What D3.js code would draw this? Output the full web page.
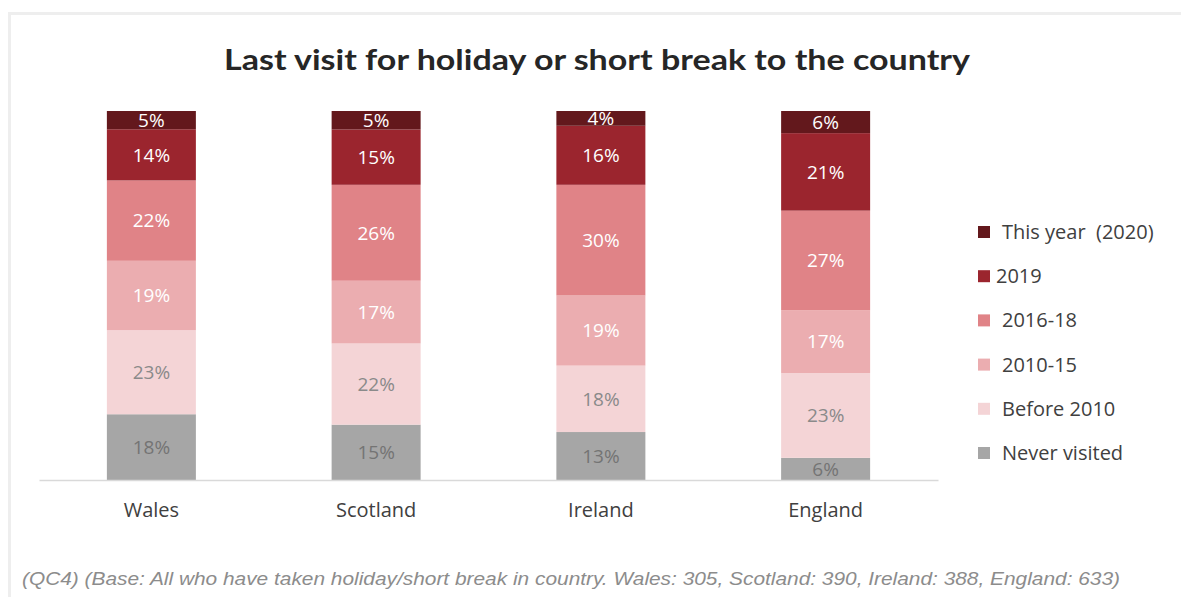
<!DOCTYPE html>
<html><head><meta charset="utf-8">
<script src="https://cdn.jsdelivr.net/npm/d3@7"></script>
<style>
html,body{margin:0;padding:0;background:#fff;}
svg{display:block;}
</style></head>
<body>
<svg id="chart" width="1181" height="597"></svg>
<script>
const categories = ["Wales", "Scotland", "Ireland", "England"];
const seriesNames = ["Never visited", "Before 2010", "2010-15", "2016-18", "2019", "This year  (2020)"];
const neverVisited = [18, 15, 13, 6];
const before2010 = [23, 22, 18, 23];
const y2010to15 = [19, 17, 19, 17];
const y2016to18 = [22, 26, 30, 27];
const y2019 = [14, 15, 16, 21];
const thisYear = [5, 5, 4, 6];
const seriesValues = [neverVisited, before2010, y2010to15, y2016to18, y2019, thisYear];
const colors = ["#a6a6a6", "#f4d4d6", "#ebadb0", "#e08387", "#9b252e", "#63181c"];
const labelColors = ["#747474", "#8a8a8a", "#ffffff", "#ffffff", "#ffffff", "#ffffff"];
const titleText = "Last visit for holiday or short break to the country";
const footnote = "(QC4) (Base: All who have taken holiday/short break in country. Wales: 305, Scotland: 390, Ireland: 388, England: 633)";

const svg = d3.select("#chart");
const font = "'Open Sans', Lato, sans-serif";

// frame
svg.append("rect").attr("x", 9.5).attr("y", 13.5).attr("width", 1190).attr("height", 600)
  .attr("fill", "none").attr("stroke", "#eeeeee").attr("stroke-width", 3);

const rows = categories.map((c, i) => {
  const o = {cat: c};
  seriesNames.forEach((s, j) => o[s] = seriesValues[j][i]);
  return o;
});
const stack = d3.stack().keys(seriesNames).offset(d3.stackOffsetExpand);
const stacked = stack(rows);

const x = d3.scaleBand().domain(categories).range([39, 938]).paddingInner(0.604).paddingOuter(0.302);
const y = d3.scaleLinear().domain([0, 1]).range([480, 111]);

const g = svg.append("g");
const layers = g.selectAll("g.layer").data(stacked).join("g").attr("class", "layer")
  .attr("fill", (d, i) => colors[i]);
layers.selectAll("rect").data(d => d).join("rect")
  .attr("x", d => x(d.data.cat))
  .attr("width", x.bandwidth())
  .attr("y", d => y(d[1]))
  .attr("height", d => y(d[0]) - y(d[1]));

stacked.forEach((layer, i) => {
  g.append("g").selectAll("text").data(layer).join("text")
    .attr("x", d => x(d.data.cat) + x.bandwidth() / 2)
    .attr("y", d => (y(d[0]) + y(d[1])) / 2)
    .attr("dy", "0.36em")
    .attr("text-anchor", "middle")
    .attr("font-family", font)
    .attr("font-size", 19)
    .attr("fill", labelColors[i])
    .text(d => d.data[layer.key] + "%");
});

// axis
const xAxis = d3.axisBottom(x).tickSize(0).tickPadding(23);
const ax = svg.append("g").attr("transform", "translate(0,480)").call(xAxis);
ax.select(".domain").attr("stroke", "#d9d9d9").attr("stroke-width", 1.5);
ax.selectAll("text").attr("font-family", font).attr("font-size", 20).attr("fill", "#404040");

// title
const t = svg.append("text").attr("x", 597).attr("y", 70).attr("text-anchor", "middle")
  .attr("font-family", "Lato, sans-serif").attr("font-weight", "bold").attr("font-size", 29)
  .attr("fill", "#262626").text(titleText);
t.attr("textLength", 746).attr("lengthAdjust", "spacingAndGlyphs");

// legend
const legendOrder = seriesNames.slice().reverse();
const legendColors = colors.slice().reverse();
const lg = svg.append("g");
legendOrder.forEach((s, i) => {
  const cy = 232 + i * 44.2;
  lg.append("rect").attr("x", 978).attr("y", cy - 6).attr("width", 12).attr("height", 12).attr("fill", legendColors[i]);
  lg.append("text").attr("x", i === 1 ? 996 : 1002).attr("y", cy).attr("dy", "0.35em")
    .attr("font-family", font).attr("font-size", 20).attr("fill", "#404040").text(s)
    .attr("xml:space", "preserve").style("white-space", "pre");
});

// footnote
svg.append("text").attr("x", 22).attr("y", 585)
  .attr("font-family", "'Liberation Sans Narrow', 'Liberation Sans', Arial, sans-serif")
  .attr("font-style", "italic").attr("font-size", 19).attr("fill", "#8c8c8c")
  .attr("textLength", 1098).attr("lengthAdjust", "spacingAndGlyphs")
  .text(footnote);
</script>
</body></html>
